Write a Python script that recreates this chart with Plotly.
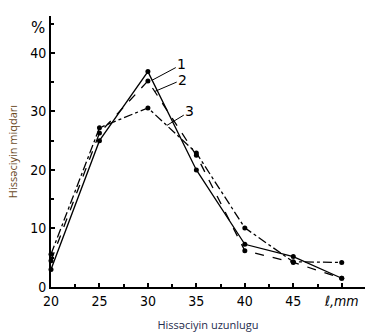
import plotly.graph_objects as go

length_mm = [20, 25, 30, 35, 40, 45, 50]
curve1 = [3.0, 25.0, 36.8, 20.0, 7.3, 5.2, 1.5]
curve2 = [4.5, 26.3, 35.2, 22.5, 6.2, 4.2, 1.5]
curve3 = [5.6, 27.2, 30.6, 22.9, 10.1, 4.3, 4.2]
curve_labels = ["1", "2", "3"]
x_tick_vals = [20, 25, 30, 35, 40, 45, 50]
x_tick_text = ["20", "25", "30", "35", "40", "45", "<i>ℓ,mm</i>"]
y_tick_vals = [0, 10, 20, 30, 40]
y_tick_text = ["0", "10", "20", "30", "40"]

fig = go.Figure()
styles = [("solid", curve1), ("dash", curve2), ("dashdot", curve3)]
for dash, vals in styles:
    fig.add_trace(go.Scatter(
        x=length_mm, y=vals, mode="lines+markers",
        line=dict(color="black", width=1.3, dash=dash),
        marker=dict(color="black", size=5),
        showlegend=False, cliponaxis=False))

# leader labels
leaders = [(30.4, 35.3, 30, -16), (30.7, 33.4, 28, -12), (31.95, 27.6, 23, -14)]
for lab, (lx, ly, ax, ay) in zip(curve_labels, leaders):
    fig.add_annotation(x=lx, y=ly, text=lab, showarrow=True, arrowhead=0,
                       arrowwidth=1, arrowcolor="black", ax=ax, ay=ay,
                       font=dict(family="DejaVu Sans", size=14, color="black"))

fig.add_annotation(xref="paper", yref="paper", x=-0.041, y=0.955, text="%",
                   xanchor="center", yanchor="middle",
                   showarrow=False, font=dict(family="DejaVu Sans", size=15, color="black"))

tick_font = dict(family="DejaVu Sans Condensed, DejaVu Sans", size=14, color="black")
fig.update_layout(
    width=365, height=336,
    margin=dict(l=51, r=0, t=16, b=49),
    plot_bgcolor="white", paper_bgcolor="white",
    xaxis=dict(range=[20, 52.4], tickvals=x_tick_vals, ticktext=x_tick_text,
               ticks="inside", ticklen=4, tickwidth=1.5, tickcolor="black",
               showline=True, linecolor="black", linewidth=2, showgrid=False, zeroline=False,
               tickfont=tick_font,
               minor=dict(dtick=2.5, tick0=20, ticks="inside", ticklen=3, tickcolor="black", tickwidth=1.5),
               title=dict(text="Hissəciyin uzunlugu", standoff=14,
                          font=dict(family="Open Sans", size=11, color="#1f2d4d"))),
    yaxis=dict(range=[0, 46.3], tickvals=y_tick_vals, ticktext=y_tick_text,
               ticks="inside", ticklen=4, tickwidth=1.5, tickcolor="black",
               showline=True, linecolor="black", linewidth=2, showgrid=False, zeroline=False,
               tickfont=tick_font,
               minor=dict(dtick=5, tick0=0, ticks="inside", ticklen=3, tickcolor="black", tickwidth=1.5),
               title=dict(text="Hissəciyin miqdarı", standoff=10,
                          font=dict(family="Open Sans", size=11, color="#6b4a1f"))),
)

fig.write_html("out.html", config={"displayModeBar": False},
               post_script="document.body.style.margin='0';document.body.style.overflow='hidden';")
